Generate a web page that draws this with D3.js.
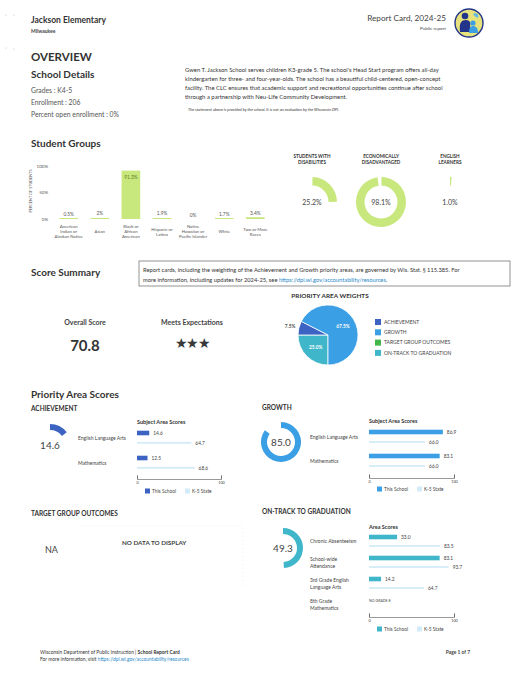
<!DOCTYPE html>
<html><head><meta charset="utf-8">
<script src="https://cdn.jsdelivr.net/npm/d3@7"></script>
<style>
body{margin:0;background:#fff;}
svg{display:block;font-family:Lato,"Open Sans",sans-serif;}
</style></head><body>
<svg id="c" width="525" height="681"></svg>
<script>
// ---------------- DATA ----------------
const studentGroups = ["American Indian or Alaskan Native","Asian","Black or African American","Hispanic or Latino","Native Hawaiian or Pacific Islander","White","Two or More Races"];
const groupLabelLines = [["American","Indian or","Alaskan Native"],["Asian"],["Black or","African","American"],["Hispanic or","Latino"],["Native","Hawaiian or","Pacific Islander"],["White"],["Two or More","Races"]];
const groupPercents = [0.5, 2, 91.3, 1.9, 0, 1.7, 3.4];
const groupValueLabels = ["0.5%","2%","91.3%","1.9%","0%","1.7%","3.4%"];
const groupAxisTicks = [0, 50, 100];
const donutTitles = [["STUDENTS WITH","DISABILITIES"],["ECONOMICALLY","DISADVANTAGED"],["ENGLISH","LEARNERS"]];
const donutPercents = [25.2, 98.1, 1.0];
const weightAreas = ["ON-TRACK TO GRADUATION","ACHIEVEMENT","GROWTH","TARGET GROUP OUTCOMES"];
const weightValues = [25.0, 7.5, 67.5, 0];
const legendAreas = ["ACHIEVEMENT","GROWTH","TARGET GROUP OUTCOMES","ON-TRACK TO GRADUATION"];
const overallScore = "70.8";
const ratingText = "Meets Expectations";
const ratingStars = 3;
const achievementScore = 14.6;
const achievementSubjects = [["English Language Arts"],["Mathematics"]];
const achievementSchool = [14.6, 12.5];
const achievementState = [64.7, 68.6];
const growthScore = 85.0;
const growthSubjects = [["English Language Arts"],["Mathematics"]];
const growthSchool = [86.9, 83.1];
const growthState = [66.0, 66.0];
const onTrackScore = 49.3;
const onTrackAreas = [["Chronic Absenteeism"],["School-wide","Attendance"],["3rd Grade English","Language Arts"],["8th Grade","Mathematics"]];
const onTrackSchool = [33.0, 83.1, 14.2, null];
const onTrackState = [83.5, 93.7, 64.7, null];
const scoreAxisTicks = [0, 100];

// ---------------- STYLE ----------------
const LIME = "#c8e87e", C_ACH = "#3d63c2", C_GRO = "#3a9fe4", C_TGO = "#43b649", C_OTG = "#3fb6c9", C_STATE = "#d3ebf8";
const TXT = "#333", TXT2 = "#555";
const areaColor = {"ACHIEVEMENT":C_ACH,"GROWTH":C_GRO,"TARGET GROUP OUTCOMES":C_TGO,"ON-TRACK TO GRADUATION":C_OTG};

const svg = d3.select("#c");
svg.append("rect").attr("width",525).attr("height",681).attr("fill","#fff");

function txt(x, y, s, o = {}) {
  const t = svg.append("text").attr("x", x).attr("y", y).text(s)
    .attr("font-size", o.size || 6).attr("fill", o.fill || TXT)
    .attr("font-weight", o.bold ? 700 : 400)
    .attr("text-anchor", o.anchor || "start");
  if (o.italic) t.attr("font-style", "italic");
  return t;
}
function lines(x, yc, arr, size, o = {}) {
  const lh = o.lh || size * 1.15;
  const y0 = yc - (arr.length - 1) * lh / 2 + size * 0.35;
  const t = svg.append("text").attr("font-size", size).attr("fill", o.fill || TXT2)
    .attr("text-anchor", o.anchor || "start").attr("font-weight", o.bold ? 700 : 400);
  arr.forEach((l, i) => t.append("tspan").attr("x", x).attr("y", y0 + i * lh).text(l));
  return t;
}

// scan marks
[[6,15],[14,15],[6,48],[14,49]].forEach(p => svg.append("circle").attr("cx",p[0]).attr("cy",p[1]).attr("r",0.6).attr("fill","#bbb"));

// ---------------- HEADER ----------------
txt(31, 23, "Jackson Elementary", {size: 8.5, bold: true});
txt(31, 33, "Milwaukee", {size: 5, bold: true, fill: "#444"});
txt(446, 21, "Report Card, 2024-25", {size: 8.2, anchor: "end", fill: "#444"});
txt(446, 30, "Public report", {size: 4.6, anchor: "end", fill: "#444"});
const logo = svg.append("g").attr("transform", "translate(469,23)");
logo.append("circle").attr("r", 14).attr("fill", "#e8e27c").attr("stroke", "#23358a").attr("stroke-width", 1.4);
logo.append("circle").attr("cx", -4).attr("cy", -7).attr("r", 3.3).attr("fill", "#23358a");
logo.append("path").attr("d", "M-9,9 C-10,0 -8,-3 -3,-3 C1,-3 2,0 1,4 L3,9 Z").attr("fill", "#23358a");
logo.append("circle").attr("cx", 4).attr("cy", 0).attr("r", 2.6).attr("fill", "#3a9fe4");
logo.append("path").attr("d", "M0,10 C0,4 2,3 4,3 C7,3 9,5 9,10 Z").attr("fill", "#3a9fe4");
logo.append("path").attr("d", "M4,-9 C8,-11 10,-8 9,-5 C7,-6 5,-7 4,-9 Z").attr("fill", "#5fb7e5");

// ---------------- OVERVIEW ----------------
txt(31, 61, "OVERVIEW", {size: 11.5, bold: true});
txt(31, 78, "School Details", {size: 10, bold: true});
txt(31, 93, "Grades :  K4-5", {size: 6.8, fill: TXT2});
txt(31, 105, "Enrollment :  206", {size: 6.8, fill: TXT2});
txt(31, 117, "Percent open enrollment :   0%", {size: 6.8, fill: TXT2});
["Gwen T. Jackson School serves children K3-grade 5. The school's Head Start program offers all-day",
 "kindergarten for three- and four-year-olds. The school has a beautiful child-centered, open-concept",
 "facility. The CLC ensures that academic support and recreational opportunities continue after school",
 "through a partnership with Neu-Life Community Development."].forEach((l, i) => txt(185, 72 + i * 9.1, l, {size: 5.9}));
txt(188, 111, "The statement above is provided by the school. It is not an evaluation by the Wisconsin DPI.", {size: 4, italic: true});

// ---------------- STUDENT GROUPS ----------------
txt(31, 147, "Student Groups", {size: 10, bold: true});
const xg = d3.scaleBand().domain(studentGroups).range([50, 274]).paddingInner(0.4).paddingOuter(0.3);
const yg = d3.scaleLinear().domain([0, 100]).range([219, 166]);
const gAxis = svg.append("g").attr("transform", "translate(50,0)")
  .call(d3.axisLeft(yg).tickValues(groupAxisTicks).tickFormat(d => d + "%").tickSize(0).tickPadding(2));
gAxis.select(".domain").remove();
gAxis.selectAll("text").attr("font-size", 4.5).attr("fill", TXT2).attr("font-family", "Lato");
svg.append("text").attr("transform", "translate(32,191) rotate(-90)").attr("text-anchor", "middle")
  .attr("font-size", 3.8).attr("fill", TXT2).text("PERCENT OF STUDENTS");
studentGroups.forEach((g, i) => {
  const v = groupPercents[i];
  const h = v > 0 ? Math.max(yg(0) - yg(v), 1) : 0;
  svg.append("rect").attr("x", xg(g)).attr("y", yg(0) - h).attr("width", xg.bandwidth()).attr("height", h).attr("fill", LIME);
  const cx = xg(g) + xg.bandwidth() / 2;
  if (v > 50) txt(cx, yg(v) + 8, groupValueLabels[i], {size: 4.8, anchor: "middle", fill: "#5d7d22"});
  else txt(cx, yg(0) - h - 2.5, groupValueLabels[i], {size: 4.8, anchor: "middle", fill: TXT2});
  lines(cx, 231.5, groupLabelLines[i], 4.3, {anchor: "middle", lh: 5});
});

// donuts
const xd = d3.scalePoint().domain(d3.range(donutPercents.length)).range([312, 450]);
const dArc = d3.arc().innerRadius(16.5).outerRadius(25);
donutPercents.forEach((p, i) => {
  const cx = xd(i), cy = 202;
  lines(cx, 159, donutTitles[i], 4.6, {anchor: "middle", bold: true, fill: "#333", lh: 6});
  const g = svg.append("g").attr("transform", `translate(${cx},${cy})`);
  const pad = p > 5 ? 0.02 : 0;
  g.append("path").attr("d", dArc({startAngle: pad, endAngle: p / 100 * 2 * Math.PI - pad})).attr("fill", LIME);
  txt(cx, cy + 2.5, p.toFixed(1) + "%", {size: 7, anchor: "middle", fill: "#444"});
});

// ---------------- SCORE SUMMARY ----------------
txt(31, 276, "Score Summary", {size: 10, bold: true});
svg.append("rect").attr("x", 139).attr("y", 261).attr("width", 371).attr("height", 25).attr("fill", "none").attr("stroke", "#666").attr("stroke-width", 0.7);
txt(143, 272, "Report cards, including the weighting of the Achievement and Growth priority areas, are governed by Wis. Stat. § 115.385. For", {size: 5.75});
const l2 = txt(143, 282, "more information, including updates for 2024-25, see ", {size: 5.75});
l2.append("tspan").attr("fill", "#2b8ac9").text("https://dpi.wi.gov/accountability/resources");
l2.append("tspan").text(".");

txt(85, 325, "Overall Score", {size: 7, bold: true, anchor: "middle", fill: "#444"});
txt(85, 351, overallScore, {size: 15, bold: true, anchor: "middle"});
txt(192, 325, ratingText, {size: 7, bold: true, anchor: "middle", fill: "#444"});
txt(192, 348, "★".repeat(ratingStars), {size: 14, anchor: "middle", fill: "#3a3a3a"}).attr("letter-spacing", -1.5);

txt(330, 298, "PRIORITY AREA WEIGHTS", {size: 6.4, bold: true, anchor: "middle"});
const pie = d3.pie().sort(null).startAngle(Math.PI).endAngle(3 * Math.PI).value(d => d.v);
const pieData = pie(weightAreas.map((a, i) => ({a, v: weightValues[i]})));
const pr = 30, pc = [328, 335];
const pArc = d3.arc().innerRadius(0).outerRadius(pr);
const lArc = d3.arc().innerRadius(17.5).outerRadius(17.5);
const oArc = d3.arc().innerRadius(39).outerRadius(39);
const gp = svg.append("g").attr("transform", `translate(${pc[0]},${pc[1]})`);
gp.selectAll("path").data(pieData.filter(d => d.data.v > 0)).join("path")
  .attr("d", pArc).attr("fill", d => areaColor[d.data.a]).attr("stroke", "#fff").attr("stroke-width", 0.8);
pieData.filter(d => d.data.v > 0).forEach(d => {
  const big = d.data.v > 15;
  const c = (big ? lArc : oArc).centroid(d);
  gp.append("text").attr("x", c[0]).attr("y", c[1] + 1.7).attr("text-anchor", "middle")
    .attr("font-size", 4.8).attr("font-weight", 700).attr("fill", big ? "#fff" : "#555").text(d.data.v.toFixed(1) + "%");
});
legendAreas.forEach((a, i) => {
  const y = 322 + i * 10.3;
  svg.append("rect").attr("x", 375).attr("y", y - 3).attr("width", 6).attr("height", 6).attr("fill", areaColor[a]);
  txt(384, y + 1.8, a, {size: 5, fill: "#444"});
});

// ---------------- PRIORITY AREA SCORES ----------------
txt(31, 398, "Priority Area Scores", {size: 10, bold: true});

function gauge(cx, cy, v, color, ro, ri) {
  const a = d3.arc().innerRadius(ri).outerRadius(ro);
  const g = svg.append("g").attr("transform", `translate(${cx},${cy})`);
  g.append("path").attr("d", a({startAngle: 0, endAngle: v / 100 * 2 * Math.PI})).attr("fill", color);
  txt(cx, cy + 3.5, v.toFixed(1), {size: 10, anchor: "middle", fill: "#444"});
}

function subjectPanel(cfg) {
  const x = d3.scaleLinear().domain([0, 100]).range([cfg.x0, cfg.x1]);
  const y = d3.scalePoint().domain(d3.range(cfg.names.length)).range([cfg.row0, cfg.row1]);
  txt(cfg.x0, cfg.titleY, cfg.title, {size: 5.5, bold: true});
  cfg.names.forEach((n, i) => {
    const ry = y(i);
    lines(cfg.labelX, ry + cfg.gap / 2, n, 5, {lh: 6.5, fill: "#444"});
    const s = cfg.school[i], st = cfg.state[i];
    if (s == null) { txt(cfg.x0, ry + 1.5, "NO GRADE 8", {size: 3.6, fill: "#444"}); return; }
    svg.append("rect").attr("x", x(0)).attr("y", ry - 2.3).attr("width", x(s) - x(0)).attr("height", 4.6).attr("fill", cfg.color);
    txt(x(s) + 4, ry + 1.8, s.toFixed(1), {size: 4.8, fill: "#444"});
    svg.append("rect").attr("x", x(0)).attr("y", ry + cfg.gap - 0.9).attr("width", x(st) - x(0)).attr("height", 1.8).attr("fill", C_STATE);
    txt(x(st) + 4, ry + cfg.gap + 1.8, st.toFixed(1), {size: 4.8, fill: "#444"});
  });
  const ax = svg.append("g").attr("transform", `translate(0,${cfg.axisY})`)
    .call(d3.axisBottom(x).tickValues(scoreAxisTicks).tickSizeInner(-3.5).tickSizeOuter(-3.5).tickPadding(2.5));
  ax.selectAll("path,line").attr("stroke", "#555").attr("stroke-width", 0.6);
  ax.selectAll("text").attr("font-size", 3.8).attr("fill", "#444").attr("font-family", "Lato");
  const lx = cfg.legendX;
  svg.append("rect").attr("x", lx).attr("y", cfg.legendY - 2.5).attr("width", 5).attr("height", 5).attr("fill", cfg.color);
  txt(lx + 7, cfg.legendY + 1.7, "This School", {size: 4.8, fill: "#444"});
  svg.append("rect").attr("x", lx + 40).attr("y", cfg.legendY - 2.5).attr("width", 5).attr("height", 5).attr("fill", C_STATE);
  txt(lx + 47, cfg.legendY + 1.7, "K-5 State", {size: 4.8, fill: "#444"});
}

// Achievement
txt(31, 411, "ACHIEVEMENT", {size: 6.5, bold: true});
gauge(50, 445, achievementScore, C_ACH, 21, 15);
subjectPanel({x0: 137, x1: 221, title: "Subject Area Scores", titleY: 424, names: achievementSubjects,
  school: achievementSchool, state: achievementState, row0: 433, row1: 458, gap: 9.8, labelX: 78,
  color: C_ACH, axisY: 479, legendX: 145, legendY: 491});

// Growth
txt(262, 410, "GROWTH", {size: 6.5, bold: true});
gauge(281, 442, growthScore, C_GRO, 20, 14);
subjectPanel({x0: 369, x1: 454, title: "Subject Area Scores", titleY: 423, names: growthSubjects,
  school: growthSchool, state: growthState, row0: 432, row1: 456, gap: 10, labelX: 310,
  color: C_GRO, axisY: 478, legendX: 377, legendY: 489});

// Target group outcomes
txt(31, 516, "TARGET GROUP OUTCOMES", {size: 6.5, bold: true});
svg.append("path").attr("d", "M77,526 H243 V585").attr("fill", "none").attr("stroke", "#ddd").attr("stroke-width", 0.5).attr("stroke-dasharray", "1,3");
txt(45, 553, "NA", {size: 9, fill: "#444"});
txt(122, 545, "NO DATA TO DISPLAY", {size: 6.3, bold: true, fill: "#444"});

// On-track
txt(262, 514, "ON-TRACK TO GRADUATION", {size: 6.5, bold: true});
gauge(283, 548, onTrackScore, C_OTG, 20, 14);
subjectPanel({x0: 369, x1: 454, title: "Area Scores", titleY: 529, names: onTrackAreas,
  school: onTrackSchool, state: onTrackState, row0: 537, row1: 600, gap: 9, labelX: 310,
  color: C_OTG, axisY: 617, legendX: 377, legendY: 629});

// ---------------- FOOTER ----------------
const f1 = txt(40, 654, "Wisconsin Department of Public Instruction | ", {size: 4.9});
f1.append("tspan").attr("font-weight", 700).text("School Report Card");
const f2 = txt(40, 661, "For more information, visit ", {size: 4.9});
f2.append("tspan").attr("fill", "#2b8ac9").text("https://dpi.wi.gov/accountability/resources");
txt(470, 654, "Page 1 of 7", {size: 4.9, anchor: "end", bold: true, fill: "#444"});
</script>
</body></html>
